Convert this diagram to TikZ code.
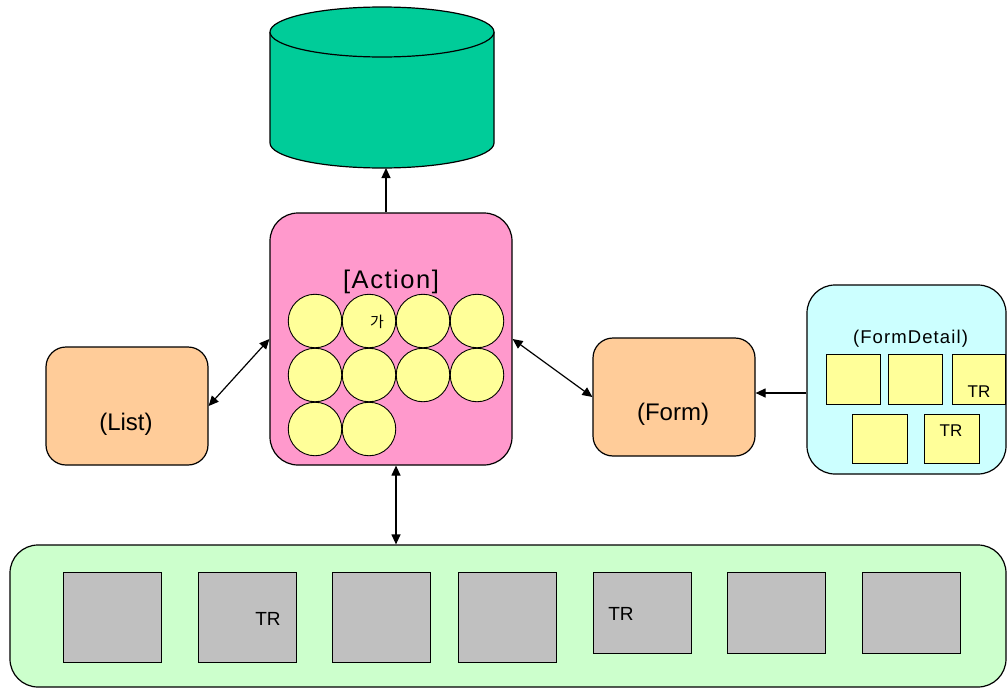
\documentclass[tikz,border=0pt]{standalone}
\usepackage{fontspec}
\setmainfont{Liberation Sans}
\newfontfamily\krfont{Noto Sans CJK KR}
\newfontfamily\widefont[LetterSpace = 6]{Liberation Sans}
\usepackage{tikz}
\usetikzlibrary{arrows.meta}
\definecolor{dbgreen}{RGB}{0, 204, 153}
\definecolor{actpink}{RGB}{255, 153, 204}
\definecolor{ballyellow}{RGB}{255, 255, 153}
\definecolor{peach}{RGB}{255, 204, 153}
\definecolor{paleblue}{RGB}{204, 255, 255}
\definecolor{palegreen}{RGB}{204, 255, 204}
\definecolor{tilegray}{RGB}{192, 192, 192}

\begin{document}
\begin{tikzpicture}[x = 1pt, y = 1pt, line width = 1.2pt,
	box/.style = {draw, rounded corners = 28pt, inner sep = 0pt},
	ball/.style = {circle, draw, fill = ballyellow, minimum size = 53.5pt, inner sep = 0pt, line width = 0.9pt},
	tile/.style = {draw, fill = ballyellow, inner sep = 0pt, line width = 0.9pt},
	gtile/.style = {draw, fill = tilegray, inner sep = 0pt, line width = 0.9pt, minimum width = 98pt},
	big/.style = {font = \fontsize{24}{27}\selectfont},
	small/.style = {font = \fontsize{17}{20}\selectfont},
	tip/.style = {-{Triangle[length = 10pt, width = 9pt]}},
	link/.style = {{Triangle[length = 10pt, width = 9pt]}-{Triangle[length = 10pt, width = 9pt]}}]
	\useasboundingbox (0,0) rectangle (1007,-688);
	\fill[dbgreen] (270,-32) -- (270,-143) arc[start angle = 180, end angle = 360, x radius = 112, y radius = 25] -- (494,-32) -- cycle;
	\draw (270,-32) -- (270,-143) arc[start angle = 180, end angle = 360, x radius = 112, y radius = 25] -- (494,-32);
	\draw[fill = dbgreen] (382,-32) ellipse [x radius = 112, y radius = 25];
	\coordinate (dbfoot) at (386,-168);
	\node (act) at (391,-339) [box, fill = actpink, minimum width = 242pt, minimum height = 252pt] {};
	\node (acttext) at (391,-282) [font = \widefont\fontsize{25.5}{28}\selectfont] {[Action]};
	\foreach \n/\x/\y in {c1/315/321, c2/369/321, c3/423/321, c4/477/321, c5/315/375, c6/369/375, c7/423/375, c8/477/375, c9/315/429, c10/369/429}
		\node (\n) at (\x,-\y) [ball] {};
	\node (ga) at (377,-322) [font = \krfont\fontsize{15}{18}\selectfont] {가};
	\node (list) at (127,-406) [box, rounded corners = 20pt, fill = peach, minimum width = 162pt, minimum height = 118pt] {};
	\node (listtext) at (126,-424) [big] {(List)};
	\node (form) at (674,-397) [box, rounded corners = 20pt, fill = peach, minimum width = 162pt, minimum height = 118pt] {};
	\node (formtext) at (673,-414) [big] {(Form)};
	\node (fdet) at (906.5,-379.5) [box, fill = paleblue, minimum width = 199pt, minimum height = 189pt] {};
	\node (fdettext) at (910.5,-339) [font = \widefont\fontsize{18.5}{21}\selectfont] {(FormDetail)};
	\node (t1) at (853,-379) [tile, minimum width = 54pt, minimum height = 50pt] {};
	\node (t2) at (915.5,-379) [tile, minimum width = 54pt, minimum height = 50pt] {};
	\node (t3) at (978.5,-379) [tile, minimum width = 53pt, minimum height = 50pt] {};
	\node (t4) at (879.5,-438.5) [tile, minimum width = 55pt, minimum height = 49pt] {};
	\node (t5) at (951.5,-438.5) [tile, minimum width = 55pt, minimum height = 49pt] {};
	\node (t3tr) at (979,-392) [small] {TR};
	\node (t5tr) at (951,-431) [small] {TR};
	\node (pool) at (508,-616) [box, fill = palegreen, minimum width = 996pt, minimum height = 142pt] {};
	\foreach \n/\x/\y/\h in {g1/112.5/617/90, g2/247/617/90, g3/381/617/90, g4/507/617/90, g5/642/612.5/81, g6/776/612.5/81, g7/911/612.5/81}
		\node (\n) at (\x,-\y) [gtile, minimum height = \h pt] {};
	\node (g2tr) at (268,-619) [font = \fontsize{19}{22}\selectfont] {TR};
	\node (g5tr) at (621,-614) [font = \fontsize{19}{22}\selectfont] {TR};
	\draw[tip] (act.north -| dbfoot) -- (dbfoot);
	\draw[link] (act.west) -- (list.east);
	\draw[link] (act.east) -- (form.west);
	\draw[tip] ([yshift = 4pt]form.east -| fdet.west) -- ([yshift = 4pt]form.east);
	\draw[link] ([xshift = 5pt]act.south) -- ([xshift = 5pt]act.south |- pool.north);
\end{tikzpicture}
\end{document}
